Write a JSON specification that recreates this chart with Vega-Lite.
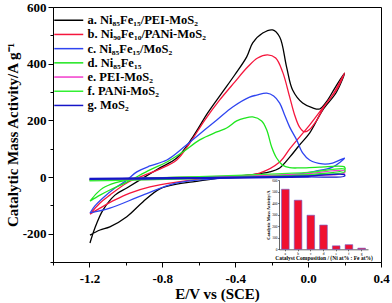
{
"$schema": "https://vega.github.io/schema/vega-lite/v6.json",
"width": 328, "height": 255,
"autosize": {"type": "none"},
"padding": {"left": 53, "top": 7, "right": 11, "bottom": 41},
"background": "white",
"config": {"view": {"stroke": "black", "strokeWidth": 1}, "font": "Liberation Serif"},
"datasets": {
"curves": [
{"k":"a","o":1,"E":-1.197,"I":-205},{"k":"a","o":2,"E":-1.142,"I":-187},{"k":"a","o":3,"E":-1.088,"I":-176},{"k":"a","o":4,"E":-0.995,"I":-140},{"k":"a","o":5,"E":-0.907,"I":-88},{"k":"a","o":6,"E":-0.814,"I":-42},{"k":"a","o":7,"E":-0.721,"I":-25},{"k":"a","o":8,"E":-0.633,"I":-17},{"k":"a","o":9,"E":-0.447,"I":0},{"k":"a","o":10,"E":-0.321,"I":7},{"k":"a","o":11,"E":-0.211,"I":18},{"k":"a","o":12,"E":-0.156,"I":32},{"k":"a","o":13,"E":-0.101,"I":70},{"k":"a","o":14,"E":-0.047,"I":113},{"k":"a","o":15,"E":0.008,"I":155},{"k":"a","o":16,"E":0.079,"I":235},{"k":"a","o":17,"E":0.156,"I":300},{"k":"a","o":18,"E":0.2,"I":367},{"k":"a","o":19,"E":0.145,"I":312},{"k":"a","o":20,"E":0.101,"I":266},{"k":"a","o":21,"E":0.063,"I":240},{"k":"a","o":22,"E":0.025,"I":244},{"k":"a","o":23,"E":-0.03,"I":261},{"k":"a","o":24,"E":-0.085,"I":307},{"k":"a","o":25,"E":-0.118,"I":388},{"k":"a","o":26,"E":-0.156,"I":494},{"k":"a","o":27,"E":-0.195,"I":519},{"k":"a","o":28,"E":-0.249,"I":508},{"k":"a","o":29,"E":-0.304,"I":473},{"k":"a","o":30,"E":-0.337,"I":424},{"k":"a","o":31,"E":-0.403,"I":360},{"k":"a","o":32,"E":-0.474,"I":296},{"k":"a","o":33,"E":-0.551,"I":226},{"k":"a","o":34,"E":-0.633,"I":141},{"k":"a","o":35,"E":-0.721,"I":67},{"k":"a","o":36,"E":-0.814,"I":32},{"k":"a","o":37,"E":-0.907,"I":-4},{"k":"a","o":38,"E":-0.995,"I":-39},{"k":"a","o":39,"E":-1.06,"I":-64},{"k":"a","o":40,"E":-1.126,"I":-117},{"k":"a","o":41,"E":-1.17,"I":-180},{"k":"a","o":42,"E":-1.197,"I":-233},
{"k":"b","o":1,"E":-1.197,"I":-131},{"k":"b","o":2,"E":-1.142,"I":-110},{"k":"b","o":3,"E":-1.06,"I":-81},{"k":"b","o":4,"E":-0.978,"I":-57},{"k":"b","o":5,"E":-0.868,"I":-35},{"k":"b","o":6,"E":-0.721,"I":-18},{"k":"b","o":7,"E":-0.54,"I":-4},{"k":"b","o":8,"E":-0.375,"I":3},{"k":"b","o":9,"E":-0.266,"I":14},{"k":"b","o":10,"E":-0.156,"I":53},{"k":"b","o":11,"E":-0.101,"I":99},{"k":"b","o":12,"E":-0.047,"I":141},{"k":"b","o":13,"E":0.008,"I":183},{"k":"b","o":14,"E":0.079,"I":243},{"k":"b","o":15,"E":0.156,"I":307},{"k":"b","o":16,"E":0.2,"I":367},{"k":"b","o":17,"E":0.14,"I":295},{"k":"b","o":18,"E":0.09,"I":250},{"k":"b","o":19,"E":0.047,"I":200},{"k":"b","o":20,"E":0.008,"I":168},{"k":"b","o":21,"E":-0.019,"I":159},{"k":"b","o":22,"E":-0.047,"I":176},{"k":"b","o":23,"E":-0.074,"I":219},{"k":"b","o":24,"E":-0.101,"I":282},{"k":"b","o":25,"E":-0.14,"I":371},{"k":"b","o":26,"E":-0.178,"I":420},{"k":"b","o":27,"E":-0.222,"I":431},{"k":"b","o":28,"E":-0.277,"I":420},{"k":"b","o":29,"E":-0.332,"I":388},{"k":"b","o":30,"E":-0.403,"I":335},{"k":"b","o":31,"E":-0.485,"I":272},{"k":"b","o":32,"E":-0.567,"I":201},{"k":"b","o":33,"E":-0.649,"I":120},{"k":"b","o":34,"E":-0.721,"I":60},{"k":"b","o":35,"E":-0.814,"I":28},{"k":"b","o":36,"E":-0.907,"I":4},{"k":"b","o":37,"E":-0.995,"I":-21},{"k":"b","o":38,"E":-1.088,"I":-64},{"k":"b","o":39,"E":-1.142,"I":-92},{"k":"b","o":40,"E":-1.197,"I":-131},
{"k":"c","o":1,"E":-1.197,"I":-127},{"k":"c","o":2,"E":-1.088,"I":-110},{"k":"c","o":3,"E":-0.907,"I":-64},{"k":"c","o":4,"E":-0.721,"I":-21},{"k":"c","o":5,"E":-0.54,"I":-7},{"k":"c","o":6,"E":-0.375,"I":0},{"k":"c","o":7,"E":-0.211,"I":3},{"k":"c","o":8,"E":-0.047,"I":11},{"k":"c","o":9,"E":0.036,"I":20},{"k":"c","o":10,"E":0.134,"I":35},{"k":"c","o":11,"E":0.2,"I":67},{"k":"c","o":12,"E":0.134,"I":49},{"k":"c","o":13,"E":0.079,"I":46},{"k":"c","o":14,"E":0.008,"I":60},{"k":"c","o":15,"E":-0.03,"I":85},{"k":"c","o":16,"E":-0.063,"I":131},{"k":"c","o":17,"E":-0.101,"I":176},{"k":"c","o":18,"E":-0.129,"I":219},{"k":"c","o":19,"E":-0.156,"I":261},{"k":"c","o":20,"E":-0.189,"I":286},{"k":"c","o":21,"E":-0.227,"I":296},{"k":"c","o":22,"E":-0.282,"I":289},{"k":"c","o":23,"E":-0.321,"I":282},{"k":"c","o":24,"E":-0.414,"I":247},{"k":"c","o":25,"E":-0.501,"I":201},{"k":"c","o":26,"E":-0.595,"I":152},{"k":"c","o":27,"E":-0.688,"I":102},{"k":"c","o":28,"E":-0.775,"I":60},{"k":"c","o":29,"E":-0.868,"I":39},{"k":"c","o":30,"E":-0.94,"I":18},{"k":"c","o":31,"E":-0.995,"I":-11},{"k":"c","o":32,"E":-1.06,"I":-39},{"k":"c","o":33,"E":-1.126,"I":-74},{"k":"c","o":34,"E":-1.17,"I":-102},{"k":"c","o":35,"E":-1.197,"I":-127},
{"k":"d","o":1,"E":-1.197,"I":-85},{"k":"d","o":2,"E":-1.159,"I":-57},{"k":"d","o":3,"E":-1.126,"I":-39},{"k":"d","o":4,"E":-1.06,"I":-21},{"k":"d","o":5,"E":-0.995,"I":-11},{"k":"d","o":6,"E":-0.814,"I":-4},{"k":"d","o":7,"E":-0.595,"I":0},{"k":"d","o":8,"E":-0.266,"I":3},{"k":"d","o":9,"E":-0.047,"I":7},{"k":"d","o":10,"E":0.2,"I":25},{"k":"d","o":11,"E":0.2,"I":35},{"k":"d","o":12,"E":0.063,"I":35},{"k":"d","o":13,"E":-0.047,"I":32},{"k":"d","o":14,"E":-0.101,"I":33},{"k":"d","o":15,"E":-0.14,"I":42},{"k":"d","o":16,"E":-0.173,"I":67},{"k":"d","o":17,"E":-0.2,"I":106},{"k":"d","o":18,"E":-0.227,"I":166},{"k":"d","o":19,"E":-0.255,"I":198},{"k":"d","o":20,"E":-0.304,"I":212},{"k":"d","o":21,"E":-0.348,"I":208},{"k":"d","o":22,"E":-0.392,"I":198},{"k":"d","o":23,"E":-0.447,"I":173},{"k":"d","o":24,"E":-0.501,"I":159},{"k":"d","o":25,"E":-0.595,"I":131},{"k":"d","o":26,"E":-0.688,"I":88},{"k":"d","o":27,"E":-0.775,"I":53},{"k":"d","o":28,"E":-0.868,"I":25},{"k":"d","o":29,"E":-0.995,"I":-18},{"k":"d","o":30,"E":-1.088,"I":-46},{"k":"d","o":31,"E":-1.142,"I":-64},{"k":"d","o":32,"E":-1.197,"I":-85},
{"k":"e","o":1,"E":-1.2,"I":-12},{"k":"e","o":2,"E":-0.9,"I":-9},{"k":"e","o":3,"E":-0.6,"I":-6},{"k":"e","o":4,"E":-0.3,"I":-1},{"k":"e","o":5,"E":0,"I":5},{"k":"e","o":6,"E":0.2,"I":14},{"k":"e","o":7,"E":0.2,"I":22},{"k":"e","o":8,"E":0,"I":12},{"k":"e","o":9,"E":-0.3,"I":5},{"k":"e","o":10,"E":-0.6,"I":0},{"k":"e","o":11,"E":-0.9,"I":-4},{"k":"e","o":12,"E":-1.2,"I":-8},
{"k":"f","o":1,"E":-1.2,"I":-14},{"k":"f","o":2,"E":-0.9,"I":-10},{"k":"f","o":3,"E":-0.6,"I":-6},{"k":"f","o":4,"E":-0.3,"I":0},{"k":"f","o":5,"E":0,"I":8},{"k":"f","o":6,"E":0.2,"I":18},{"k":"f","o":7,"E":0.2,"I":28},{"k":"f","o":8,"E":0,"I":16},{"k":"f","o":9,"E":-0.3,"I":8},{"k":"f","o":10,"E":-0.6,"I":1},{"k":"f","o":11,"E":-0.9,"I":-4},{"k":"f","o":12,"E":-1.2,"I":-9},
{"k":"g","o":1,"E":-1.2,"I":-8},{"k":"g","o":2,"E":-0.9,"I":-7},{"k":"g","o":3,"E":-0.6,"I":-5},{"k":"g","o":4,"E":-0.3,"I":-3},{"k":"g","o":5,"E":0,"I":0},{"k":"g","o":6,"E":0.2,"I":3},{"k":"g","o":7,"E":0.2,"I":8},{"k":"g","o":8,"E":0,"I":4},{"k":"g","o":9,"E":-0.3,"I":0},{"k":"g","o":10,"E":-0.6,"I":-2},{"k":"g","o":11,"E":-0.9,"I":-3},{"k":"g","o":12,"E":-1.2,"I":-5}
],
"bars": [
{"c":"a","v":520},{"c":"b","v":425},{"c":"c","v":295},{"c":"d","v":210},{"c":"e","v":30},{"c":"f","v":40},{"c":"g","v":10}
]
},
"layer": [
{
"data": {"name": "curves"},
"mark": {"type": "line", "strokeWidth": 1.3, "interpolate": "catmull-rom"},
"encoding": {
"x": {"field": "E", "type": "quantitative", "scale": {"domain": [-1.4, 0.4], "nice": false, "zero": false},
 "axis": {"orient": "bottom", "values": [-1.2, -0.8, -0.4, 0, 0.4], "format": ".1f", "labelExpr": "replace(datum.label, '−', '-')", "labelFlush": false,
  "title": "E/V vs (SCE)", "titleFont": "Liberation Serif", "titleFontSize": 15, "titleFontWeight": "bold", "titleColor": "black", "titlePadding": 1,
  "labelFont": "Liberation Serif", "labelFontSize": 13, "labelFontWeight": "bold", "labelColor": "black", "labelPadding": 5,
  "tickSize": 5, "tickColor": "black", "domainColor": "black", "grid": false}},
"y": {"field": "I", "type": "quantitative", "scale": {"domain": [-300, 600], "nice": false, "zero": false},
 "axis": {"orient": "left", "values": [-200, 0, 200, 400, 600], "labelExpr": "replace(datum.label, '−', '-')",
  "title": "Catalytic Mass Activity/A g⁻¹", "titleFont": "Liberation Serif", "titleFontSize": 15, "titleFontWeight": "bold", "titleColor": "black", "titlePadding": 2,
  "labelFont": "Liberation Serif", "labelFontSize": 13, "labelFontWeight": "bold", "labelColor": "black", "labelPadding": 2,
  "tickSize": 5, "tickColor": "black", "domainColor": "black", "grid": false}},
"color": {"field": "k", "type": "nominal",
 "scale": {"domain": ["a","b","c","d","e","f","g"], "range": ["#000000", "#f5163c", "#2f45f0", "#1ee61e", "#f23ccc", "#33f033", "#1515c8"]},
 "legend": {"orient": "none", "legendX": 9.5, "legendY": 7, "title": null, "symbolType": "M-2.9,0H2.9", "symbolSize": 100, "symbolStrokeWidth": 1.5,
  "labelFont": "Liberation Serif", "labelFontWeight": "bold", "labelFontSize": 12.5, "labelColor": "black", "rowPadding": 1.2, "labelOffset": 12.5, "padding": 0, "labelLimit": 300,
  "labelExpr": "datum.label == 'a' ? 'a. Ni₈₅Fe₁₅/PEI-MoS₂' : datum.label == 'b' ? 'b. Ni₉₀Fe₁₀/PANi-MoS₂' : datum.label == 'c' ? 'c. Ni₈₅Fe₁₅/MoS₂' : datum.label == 'd' ? 'd. Ni₈₅Fe₁₅' : datum.label == 'e' ? 'e. PEI-MoS₂' : datum.label == 'f' ? 'f. PANi-MoS₂' : 'g. MoS₂'"}},
"order": {"field": "o", "type": "quantitative"}
}
},
{
"data": {"name": "curves"},
"mark": {"type": "point", "opacity": 0},
"encoding": {
"x": {"field": "E", "type": "quantitative", "scale": {"domain": [-1.4, 0.4], "nice": false, "zero": false},
 "axis": {"orient": "bottom", "values": [-1.4, -1.0, -0.6, -0.2, 0.2], "labels": false, "title": null, "domain": false, "tickSize": 3, "tickColor": "black", "grid": false}},
"y": {"field": "I", "type": "quantitative", "scale": {"domain": [-300, 600], "nice": false, "zero": false},
 "axis": {"orient": "left", "values": [-300, -100, 100, 300, 500], "labels": false, "title": null, "domain": false, "tickSize": 3, "tickColor": "black", "grid": false}}
}
},
{
"data": {"name": "bars"},
"mark": {"type": "bar", "fill": "#f01030", "stroke": "#6a5acd", "strokeWidth": 0.6},
"encoding": {
"x": {"field": "c", "type": "nominal", "sort": null,
 "scale": {"type": "band", "range": [226, 315], "paddingInner": 0.4, "paddingOuter": 0.2},
 "axis": {"orient": "bottom", "offset": -12.7, "labelAngle": 0, "labelFont": "Liberation Serif", "labelFontSize": 3.5, "labelColor": "black", "labelPadding": 0.5,
  "tickSize": 1.5, "tickWidth": 0.5, "tickColor": "black", "domainWidth": 0.6, "domainColor": "black",
  "title": "Catalyst Composition / (Ni at% : Fe at%)", "titleFont": "Liberation Serif", "titleFontSize": 5.5, "titleFontWeight": "bold", "titleColor": "black", "titlePadding": 1}},
"y": {"field": "v", "type": "quantitative",
 "scale": {"domain": [0, 600], "range": [242.3, 173], "nice": false, "zero": true},
 "axis": {"orient": "left", "offset": -226, "values": [0, 100, 200, 300, 400, 500, 600], "labelFont": "Liberation Serif", "labelFontSize": 3.5, "labelColor": "black", "labelPadding": 0.5,
  "tickSize": 1.5, "tickWidth": 0.5, "tickColor": "black", "domainWidth": 0.6, "domainColor": "black", "grid": false,
  "title": "Catalytic Mass Activity/A", "titleFont": "Liberation Serif", "titleFontSize": 4.5, "titleFontWeight": "bold", "titleColor": "black", "titlePadding": 1}}
}
}
],
"resolve": {"scale": {"x": "independent", "y": "independent"}, "axis": {"x": "independent", "y": "independent"}}
}
